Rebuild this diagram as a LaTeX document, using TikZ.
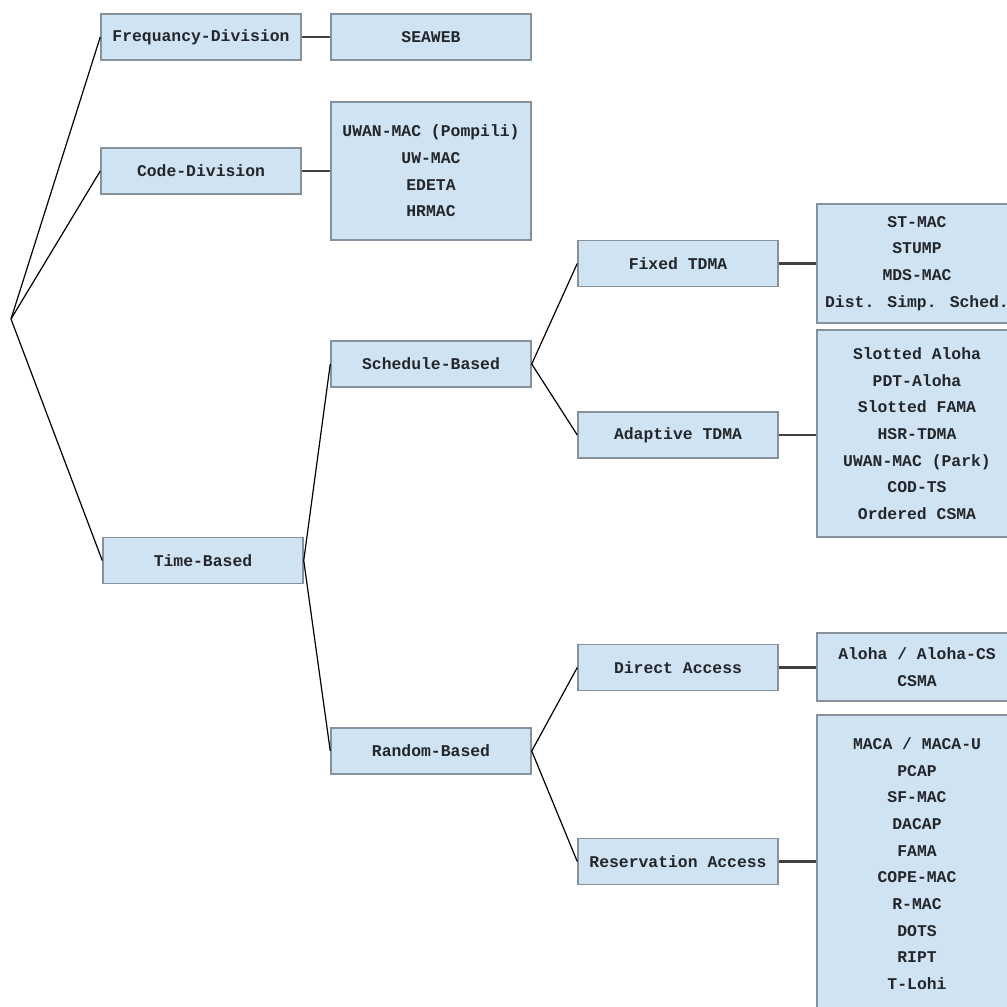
\documentclass[tikz,border=0pt]{standalone}
\usepackage{fontspec}
\setmainfont{Liberation Mono}
\definecolor{boxfill}{RGB}{207,227,242}
\definecolor{boxline}{RGB}{135,145,155}
\definecolor{boxtext}{RGB}{35,38,42}
\definecolor{linkgray}{RGB}{65,65,65}
\begin{document}
\begin{tikzpicture}[x=0.75pt,y=0.75pt,yscale=-1,xscale=1,
  catbox/.style={draw=boxline, line width=1.1pt, fill=boxfill, inner sep=0pt,
    minimum width=150pt, minimum height=34.5pt, align=center, text=boxtext,
    font=\bfseries\fontsize{12.3}{20}\selectfont},
  branch/.style={line width=0.9pt, draw=black},
  link/.style={line width=1.7pt, draw=linkgray}]
%set diagram to 1007 x 1007, boxes on the right are cut at the border
\clip (0,0) rectangle (1007,1007);
\fill [white] (0,0) rectangle (1007,1007);

%Root point
\coordinate (root) at (11,319);

%Shape: Rectangle [first column]
\node [catbox] (freq) at (201,37) {Frequancy-Division};
\node [catbox] (code) at (201,171) {Code-Division};
\node [catbox] (time) at (203,560.5) {Time-Based};

%Shape: Rectangle [second column]
\node [catbox] (seaweb) at (431,37) {SEAWEB};
\node [catbox, minimum height=103.5pt] (codelist) at (431,171) {UWAN-MAC (Pompili)\\UW-MAC\\EDETA\\HRMAC};
\node [catbox] (sched) at (431,364) {Schedule-Based};
\node [catbox] (random) at (431,751) {Random-Based};

%Shape: Rectangle [third column]
\node [catbox] (fixed) at (678,263.5) {Fixed TDMA};
\node [catbox] (adapt) at (678,435) {Adaptive TDMA};
\node [catbox] (direct) at (678,667.5) {Direct Access};
\node [catbox] (reserv) at (678,861.5) {Reservation Access};

%Shape: Rectangle [fourth column]
\node [catbox, minimum height=89.25pt] (fixedlist) at (917,263.5) {ST-MAC\\STUMP\\MDS-MAC\\Dist. Simp. Sched.};
\node [catbox, minimum height=155.25pt] (adaptlist) at (917,433.5) {Slotted Aloha\\PDT-Aloha\\Slotted FAMA\\HSR-TDMA\\UWAN-MAC (Park)\\COD-TS\\Ordered CSMA};
\node [catbox, minimum height=51pt] (directlist) at (917,667) {Aloha / Aloha-CS\\CSMA};
\node [catbox, minimum height=222.75pt] (reservlist) at (917,863.5) {MACA / MACA-U\\PCAP\\SF-MAC\\DACAP\\FAMA\\COPE-MAC\\R-MAC\\DOTS\\RIPT\\T-Lohi};

%Straight Lines [tree branches]
\draw [branch] (freq.west) -- (root) -- (time.west);
\draw [branch] (root) -- (code.west);
\draw [branch] (sched.west) -- (time.east) -- (random.west);
\draw [branch] (fixed.west) -- (sched.east) -- (adapt.west);
\draw [branch] (direct.west) -- (random.east) -- (reserv.west);

%Straight Lines [links to lists]
\draw [link] (freq.east) -- (seaweb.west);
\draw [link] (code.east) -- (code.east -| codelist.west);
\draw [link] (fixed.east) -- (fixed.east -| fixedlist.west);
\draw [link] (adapt.east) -- (adapt.east -| adaptlist.west);
\draw [link] (direct.east) -- (direct.east -| directlist.west);
\draw [link] (reserv.east) -- (reserv.east -| reservlist.west);

\end{tikzpicture}
\end{document}
